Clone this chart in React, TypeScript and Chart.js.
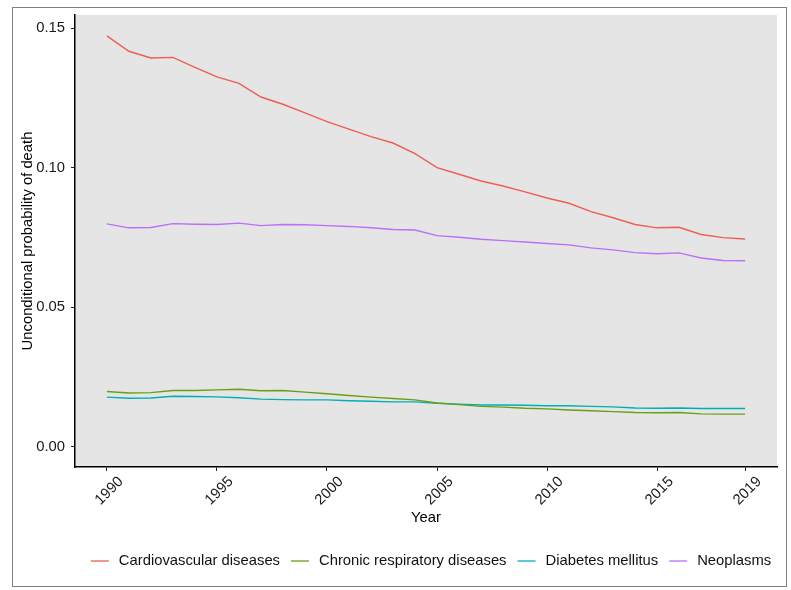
import React, { useEffect, useRef } from "react";
import { Chart, registerables } from "chart.js";

Chart.register(...registerables);

const years = [
  1990, 1991, 1992, 1993, 1994, 1995, 1996, 1997, 1998, 1999,
  2000, 2001, 2002, 2003, 2004, 2005, 2006, 2007, 2008, 2009,
  2010, 2011, 2012, 2013, 2014, 2015, 2016, 2017, 2018, 2019,
];

const cardiovascular = [
  0.1472, 0.1417, 0.1393, 0.1395, 0.1359, 0.1325, 0.1302, 0.1253, 0.1227, 0.1196,
  0.1165, 0.1138, 0.1111, 0.1088, 0.1050, 0.1000, 0.0976, 0.0952, 0.0934, 0.0913,
  0.0891, 0.0872, 0.0842, 0.0820, 0.0796, 0.0784, 0.0786, 0.0760, 0.0749, 0.0744,
];

const chronicRespiratory = [
  0.0197, 0.0192, 0.0193, 0.0201, 0.0201, 0.0203, 0.0205, 0.0200, 0.0201, 0.0195,
  0.0189, 0.0183, 0.0177, 0.0172, 0.0167, 0.0156, 0.0150, 0.0144, 0.0141, 0.0137,
  0.0135, 0.0131, 0.0128, 0.0125, 0.0122, 0.0121, 0.0122, 0.0117, 0.0116, 0.0116,
];

const diabetes = [
  0.0177, 0.0173, 0.0174, 0.0180, 0.0179, 0.0178, 0.0175, 0.0170, 0.0168, 0.0167,
  0.0167, 0.0164, 0.0162, 0.0160, 0.0160, 0.0155, 0.0152, 0.0149, 0.0149, 0.0148,
  0.0146, 0.0146, 0.0144, 0.0142, 0.0138, 0.0137, 0.0138, 0.0136, 0.0136, 0.0136,
];

const neoplasms = [
  0.0798, 0.0784, 0.0785, 0.0799, 0.0797, 0.0796, 0.0801, 0.0792, 0.0796, 0.0795,
  0.0792, 0.0789, 0.0784, 0.0778, 0.0776, 0.0756, 0.0750, 0.0743, 0.0738, 0.0733,
  0.0728, 0.0723, 0.0712, 0.0705, 0.0695, 0.0691, 0.0694, 0.0676, 0.0667, 0.0666,
];

const seriesNames = [
  "Cardiovascular diseases",
  "Chronic respiratory diseases",
  "Diabetes mellitus",
  "Neoplasms",
];
const seriesValues = [cardiovascular, chronicRespiratory, diabetes, neoplasms];
const seriesColors = ["#EE5E54", "#68A015", "#00AFB4", "#BB70F8"];

const xTickValues = [1990, 1995, 2000, 2005, 2010, 2015, 2019];
const yTickValues = [0, 0.05, 0.1, 0.15];

const FONT = "'Liberation Sans', Arial, sans-serif";
const FS = 14.8;

const backgroundPlugin = {
  id: "panelBackground",
  beforeDraw(chart: any) {
    const { ctx, chartArea, width, height } = chart;
    ctx.save();
    ctx.fillStyle = "#ffffff";
    ctx.fillRect(0, 0, width, height);
    ctx.strokeStyle = "#7f7f7f";
    ctx.lineWidth = 1;
    ctx.strokeRect(12.5, 7.5, 774, 579);
    ctx.fillStyle = "#E5E5E5";
    ctx.fillRect(chartArea.left, chartArea.top, chartArea.right - chartArea.left, chartArea.bottom - chartArea.top);
    ctx.restore();
  },
};

const legendPlugin = {
  id: "customLegend",
  afterDraw(chart: any) {
    const { ctx, chartArea } = chart;
    ctx.save();
    ctx.font = `${FS}px ${FONT}`;
    const lineLen = 18;
    const gapLineText = 10;
    const gapItems = 11;
    const widths = seriesNames.map((n) => ctx.measureText(n).width);
    let total = 0;
    widths.forEach((w, i) => {
      total += lineLen + gapLineText + w + (i < widths.length - 1 ? gapItems : 0);
    });
    const center = (chartArea.left + chartArea.right) / 2 + 5;
    let x = center - total / 2;
    const y = 561;
    seriesNames.forEach((n, i) => {
      ctx.strokeStyle = seriesColors[i];
      ctx.lineWidth = 1.3;
      ctx.beginPath();
      ctx.moveTo(x, y);
      ctx.lineTo(x + lineLen, y);
      ctx.stroke();
      x += lineLen + gapLineText;
      ctx.fillStyle = "#111111";
      ctx.textBaseline = "middle";
      ctx.textAlign = "left";
      ctx.fillText(n, x, y);
      x += widths[i] + gapItems;
    });
    ctx.restore();
  },
};

export default function App() {
  const canvasRef = useRef<HTMLCanvasElement | null>(null);

  useEffect(() => {
    if (!canvasRef.current) return;
    const chart = new Chart(canvasRef.current, {
      type: "line",
      data: {
        datasets: seriesNames.map((name, i) => ({
          label: name,
          data: years.map((yr, j) => ({ x: yr, y: seriesValues[i][j] })),
          borderColor: seriesColors[i],
          backgroundColor: seriesColors[i],
          borderWidth: 1.4,
          pointRadius: 0,
          tension: 0,
          fill: false,
        })),
      },
      options: {
        animation: false,
        responsive: false,
        maintainAspectRatio: false,
        layout: { padding: { left: 0, right: 14, top: 15, bottom: 0 } },
        plugins: {
          legend: { display: false },
          tooltip: { enabled: false },
        },
        scales: {
          x: {
            type: "linear",
            min: 1988.55,
            max: 2020.45,
            afterBuildTicks: (scale: any) => {
              scale.ticks = xTickValues.map((v) => ({ value: v }));
            },
            afterFit: (scale: any) => {
              scale.height = 123;
            },
            grid: {
              display: true,
              drawOnChartArea: false,
              drawTicks: true,
              tickLength: 4,
              color: "#222222",
            },
            border: { display: true, color: "#000000", width: 1.5 },
            ticks: {
              autoSkip: false,
              minRotation: 45,
              maxRotation: 45,
              labelOffset: 14,
              padding: 2,
              color: "#1a1a1a",
              font: { family: FONT, size: FS },
              callback: (v: any) => String(v),
            },
            title: {
              display: true,
              text: "Year",
              color: "#000000",
              font: { family: FONT, size: FS },
              padding: { top: 0, bottom: 63 },
            },
          },
          y: {
            type: "linear",
            min: -0.00735,
            max: 0.1547,
            afterBuildTicks: (scale: any) => {
              scale.ticks = yTickValues.map((v) => ({ value: v }));
            },
            afterFit: (scale: any) => {
              scale.width = 75;
            },
            grid: {
              display: true,
              drawOnChartArea: false,
              drawTicks: true,
              tickLength: 4,
              color: "#222222",
            },
            border: { display: true, color: "#000000", width: 1.5 },
            ticks: {
              padding: 6,
              color: "#1a1a1a",
              font: { family: FONT, size: FS },
              callback: (v: any) => Number(v).toFixed(2),
            },
            title: {
              display: true,
              text: "Unconditional probability of death",
              color: "#000000",
              font: { family: FONT, size: FS },
              padding: { top: 19, bottom: 0 },
            },
          },
        },
      },
      plugins: [backgroundPlugin, legendPlugin],
    });
    return () => chart.destroy();
  }, []);

  return (
    <div style={{ position: "absolute", left: 0, top: 0, width: 791, height: 590 }}>
      <canvas ref={canvasRef} width={791} height={590} style={{ width: 791, height: 590, display: "block" }} />
    </div>
  );
}
